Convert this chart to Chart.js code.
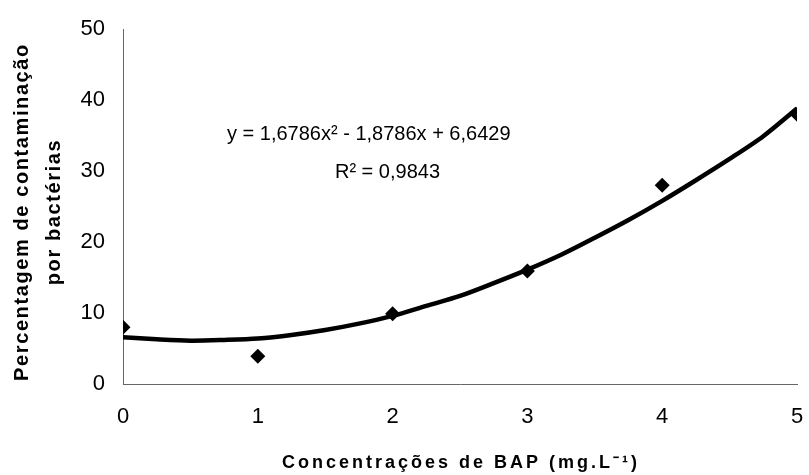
<!DOCTYPE html>
<html>
<head>
<meta charset="utf-8">
<script src="https://cdn.jsdelivr.net/npm/chart.js@4.4.1/dist/chart.umd.min.js"></script>
<style>
  html, body { margin: 0; padding: 0; background: #fff; }
  #wrap { width: 809px; height: 475px; }
</style>
</head>
<body>
<div id="wrap"><canvas id="chart" width="809" height="475"></canvas></div>
<script>
// observed values
const bapDoses = [0, 1, 2, 3, 4, 5];
const contamination = [8, 3.9, 9.9, 15.9, 28, 38];

// trend line
const trendX = [0, 0.25, 0.5, 0.75, 1, 1.25, 1.5, 1.75, 2, 2.25, 2.5, 2.75, 3, 3.25, 3.5, 3.75, 4, 4.25, 4.5, 4.75, 5];
const trendY = [6.6, 6.3, 6.1, 6.2, 6.4, 6.9, 7.6, 8.5, 9.6, 11.0, 12.4, 14.2, 16.1, 18.2, 20.6, 23.1, 25.8, 28.7, 31.7, 34.9, 38.8];

const xTicks = [0, 1, 2, 3, 4, 5];
const yTicks = [0, 10, 20, 30, 40, 50];

const xTitle = 'Concentrações de BAP (mg.L\u207B\u00B9)';
const yTitle = ['Percentagem de contaminação', 'por bactérias'];
const equationLines = ['y = 1,6786x\u00B2 - 1,8786x + 6,6429', 'R\u00B2 = 0,9843'];

const FONT = 'Arial, "Liberation Sans", sans-serif';

const toPoints = (xs, ys) => xs.map((x, i) => ({x, y: ys[i]}));

// axis titles (with letter spacing) and the trendline equation
const textLayer = {
  id: 'textLayer',
  afterDraw(chart) {
    const {ctx, chartArea} = chart;
    ctx.save();
    ctx.fillStyle = '#000';

    // x title
    ctx.font = 'bold 18px ' + FONT;
    ctx.letterSpacing = '3px';
    ctx.textAlign = 'center';
    ctx.textBaseline = 'alphabetic';
    ctx.fillText(xTitle, (chartArea.left + chartArea.right) / 2 + 1, 468);

    // y title, two lines rotated
    ctx.save();
    ctx.font = 'bold 20px ' + FONT;
    ctx.letterSpacing = '1.6px';
    ctx.translate(0, 212);
    ctx.rotate(-Math.PI / 2);
    ctx.fillText(yTitle[0], 0, 28);
    ctx.fillText(yTitle[1], 0, 60);
    ctx.restore();

    // equation
    ctx.letterSpacing = '0px';
    ctx.font = '20px ' + FONT;
    ctx.textAlign = 'left';
    ctx.fillText(equationLines[0], 227, 140);
    ctx.textAlign = 'right';
    ctx.fillText(equationLines[1], 440, 178);
    ctx.restore();
  }
};

new Chart(document.getElementById('chart'), {
  type: 'scatter',
  data: {
    datasets: [
      {
        label: 'Contaminação',
        data: toPoints(bapDoses, contamination),
        pointStyle: 'rectRot',
        pointRadius: 7.5,
        backgroundColor: '#000',
        borderColor: '#000',
        borderWidth: 0,
        showLine: false,
        order: 0
      },
      {
        label: 'Tendência',
        data: toPoints(trendX, trendY),
        showLine: true,
        borderColor: '#000',
        borderWidth: 4.5,
        pointRadius: 0,
        tension: 0.3,
        order: 1
      }
    ]
  },
  options: {
    responsive: false,
    animation: false,
    layout: {padding: {top: 29, right: 12, left: 0, bottom: 0}},
    plugins: {legend: {display: false}, tooltip: {enabled: false}},
    scales: {
      x: {
        type: 'linear',
        min: 0,
        max: 5,
        afterBuildTicks: (s) => { s.ticks = xTicks.map(v => ({value: v})); },
        afterFit: (s) => { s.height = 91; s.paddingLeft = 0; s.paddingRight = 0; },
        grid: {display: false, drawTicks: true, tickLength: 7, color: '#666'},
        border: {display: true, color: '#666', width: 1},
        ticks: {color: '#000', font: {family: FONT, size: 22}, padding: 13, maxRotation: 0},
        title: {display: false}
      },
      y: {
        min: 0,
        max: 50,
        afterBuildTicks: (s) => { s.ticks = yTicks.map(v => ({value: v})); },
        afterFit: (s) => { s.width = 123; s.paddingTop = 0; s.paddingBottom = 0; },
        grid: {display: false, drawTicks: true, tickLength: 5, color: '#666'},
        border: {display: true, color: '#666', width: 1},
        ticks: {color: '#000', font: {family: FONT, size: 22}, padding: 13},
        title: {display: false}
      }
    }
  },
  plugins: [textLayer]
});
</script>
</body>
</html>
